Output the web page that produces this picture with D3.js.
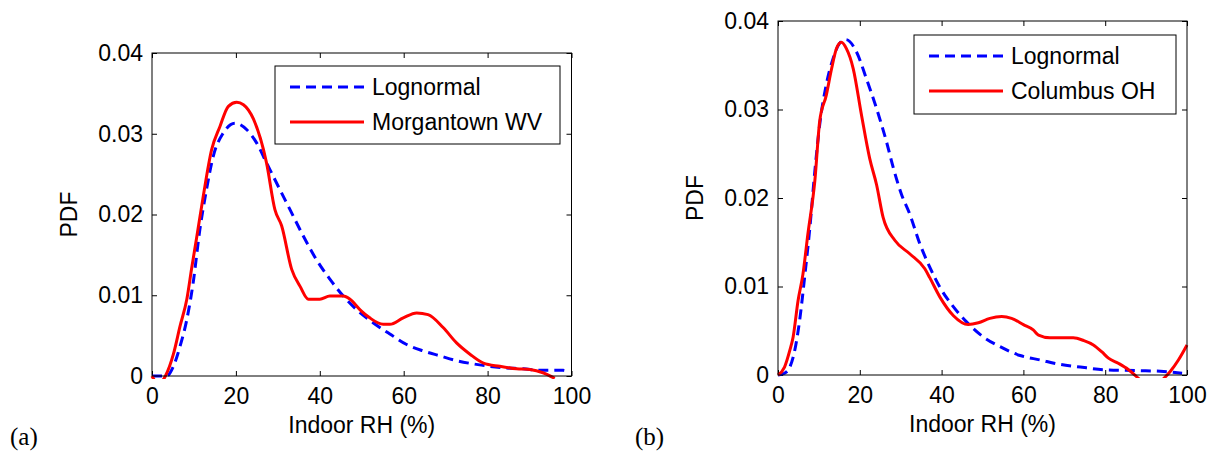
<!DOCTYPE html>
<html>
<head>
<meta charset="utf-8">
<script src="https://cdn.jsdelivr.net/npm/d3@7"></script>
<style>
    body { margin: 0; background: #fff; }
    svg text { font-family: "Liberation Sans", Arial, Helvetica, sans-serif; fill: #000; }
    .axis line { stroke: #000; stroke-width: 1; }
    .axis path { display: none; }
    .axis text { font-size: 23px; }
    .axis-title { font-size: 23px; }
    .legend-text { font-size: 23px; }
    .panel-tag { font-size: 25px; }
</style>
</head>
<body>
<div id="chart"></div>
<script>
// tick values shared by both panels
const xTicks = [0, 20, 40, 60, 80, 100];
const yTicks = [0, 0.01, 0.02, 0.03, 0.04];
const yTickLabels = ['0', '0.01', '0.02', '0.03', '0.04'];

// panel (a): Morgantown WV
const lognormalA_RH = [0, 3.5, 5.1, 6.7, 8.3, 9.8, 11.4, 13.0, 14.6, 17.0, 19.8, 22.6, 24.9, 27.3, 29.7, 32.9, 36.1, 39.2, 42.4, 45.6, 48.8, 52.7, 56.7, 60.7, 64.7, 68.6, 72.6, 76.6, 80.5, 84.5, 88.5, 92.5, 98.0, 99.6];
const lognormalA_PDF = [0, 0, 0.0012, 0.0037, 0.0070, 0.0115, 0.0181, 0.0231, 0.0272, 0.0301, 0.0313, 0.0305, 0.0289, 0.0264, 0.0239, 0.0206, 0.0173, 0.0144, 0.0120, 0.0099, 0.0082, 0.0066, 0.0052, 0.0039, 0.0031, 0.0025, 0.0019, 0.0015, 0.0012, 0.0010, 0.0009, 0.0007, 0.0007, 0.0004];
const morgantownRH = [0, 1.5, 3.2, 5.1, 6.7, 8.3, 9.5, 10.6, 12.2, 14.2, 16.2, 18.2, 20.2, 21.8, 24.2, 27.3, 29.3, 30.9, 33.3, 35.3, 37.3, 40.0, 42.4, 45.6, 47.2, 49.6, 51.9, 55.1, 56.7, 59.9, 63.1, 65.8, 69.4, 72.6, 75.8, 79.0, 82.9, 86.9, 90.1, 93.2, 96.0];
const morgantownPDF = [0, -0.001, 0, 0.0027, 0.0062, 0.0095, 0.0135, 0.0170, 0.0222, 0.0280, 0.0309, 0.0334, 0.0339, 0.0336, 0.0318, 0.0264, 0.0206, 0.0186, 0.0132, 0.0111, 0.0095, 0.0095, 0.0099, 0.0099, 0.0095, 0.0082, 0.0072, 0.0064, 0.0064, 0.0072, 0.0078, 0.0076, 0.0060, 0.0041, 0.0027, 0.0016, 0.0012, 0.0009, 0.0008, 0.0004, -0.0003];

// panel (b): Columbus OH
const lognormalB_RH = [0, 1.6, 2.9, 4.1, 5.3, 6.5, 7.8, 9.0, 10.2, 11.8, 13.5, 15.1, 16.6, 19.2, 21.6, 24.1, 26.5, 28.2, 30.2, 32.2, 34.7, 37.1, 39.6, 42.9, 46.1, 50.2, 54.3, 59.2, 64.1, 69.0, 73.9, 79.6, 87.8, 94.3, 98.8];
const lognormalB_PDF = [0, 0.0002, 0.0009, 0.0028, 0.0062, 0.0110, 0.0167, 0.0230, 0.0283, 0.0328, 0.0358, 0.0375, 0.0379, 0.0365, 0.0335, 0.0301, 0.0264, 0.0234, 0.0204, 0.0182, 0.0148, 0.0122, 0.0099, 0.0077, 0.0060, 0.0043, 0.0032, 0.0022, 0.0017, 0.0012, 0.0009, 0.0006, 0.0005, 0.0004, 0.0002];
const columbusRH = [0, 1.6, 2.9, 3.7, 4.9, 6.1, 7.3, 9.0, 10.2, 11.8, 13.1, 14.3, 15.5, 16.7, 18.4, 20.4, 22.4, 24.1, 25.7, 28.6, 32.2, 35.9, 37.1, 39.6, 42.9, 46.5, 49.0, 51.8, 54.7, 57.1, 60.0, 62.4, 63.7, 66.5, 72.2, 74.7, 77.1, 79.2, 80.8, 83.3, 85.7, 88.2, 91.0, 94.3, 95.9, 97.9, 100];
const columbusPDF = [0, 0.0009, 0.0028, 0.0043, 0.0084, 0.0114, 0.0159, 0.0219, 0.0287, 0.0316, 0.0346, 0.0369, 0.0376, 0.0369, 0.0346, 0.0294, 0.0245, 0.0215, 0.0178, 0.0152, 0.0137, 0.0120, 0.0110, 0.0088, 0.0067, 0.0057, 0.0059, 0.0064, 0.0066, 0.0064, 0.0057, 0.0051, 0.0045, 0.0042, 0.0042, 0.0039, 0.0034, 0.0026, 0.0019, 0.0013, 0.0006, -0.0004, -0.0015, -0.0004, 0.0004, 0.0017, 0.0034];

const zip = (xs, ys) => xs.map((x, i) => ({x: x, y: ys[i]}));

const panels = [
    {
        id: 'a', tag: '(a)', tagX: 10,
        left: 152, top: 53, right: 571.5, bottom: 376,
        legend: {x: 275, y: 66, w: 285, h: 78},
        series: [
            {name: 'Lognormal', color: '#0000ff', dash: '10,6', data: zip(lognormalA_RH, lognormalA_PDF)},
            {name: 'Morgantown WV', color: '#ff0000', dash: null, data: zip(morgantownRH, morgantownPDF)}
        ]
    },
    {
        id: 'b', tag: '(b)', tagX: 635,
        left: 778, top: 21, right: 1187, bottom: 375,
        legend: {x: 914, y: 35, w: 262, h: 79},
        series: [
            {name: 'Lognormal', color: '#0000ff', dash: '10,6', data: zip(lognormalB_RH, lognormalB_PDF)},
            {name: 'Columbus OH', color: '#ff0000', dash: null, data: zip(columbusRH, columbusPDF)}
        ]
    }
];

const svg = d3.select('#chart')
    .append('svg')
    .attr('width', 1213)
    .attr('height', 455);

panels.forEach(p => {
    const width = p.right - p.left;
    const height = p.bottom - p.top;

    const xScale = d3.scaleLinear().domain([0, 100]).range([0, width]);
    const yScale = d3.scaleLinear().domain([0, 0.04]).range([height, 0]);

    const g = svg.append('g')
        .attr('transform', `translate(${p.left},${p.top})`);

    // clip a little outside the box so thick lines at the edge still show
    g.append('clipPath')
        .attr('id', `clip-${p.id}`)
        .append('rect')
        .attr('x', -3)
        .attr('y', -3)
        .attr('width', width + 6)
        .attr('height', height + 6);

    // ticks point inward on all four sides, like a matlab box
    g.append('g')
        .attr('class', 'axis')
        .attr('transform', `translate(0,${height})`)
        .call(d3.axisBottom(xScale).tickValues(xTicks).tickSize(-5).tickPadding(12).tickFormat(d3.format('d')));
    g.append('g')
        .attr('class', 'axis')
        .call(d3.axisTop(xScale).tickValues(xTicks).tickSize(-5).tickFormat(''));
    g.append('g')
        .attr('class', 'axis')
        .call(d3.axisLeft(yScale).tickValues(yTicks).tickSize(-5).tickPadding(9)
            .tickFormat((d, i) => yTickLabels[i]));
    g.append('g')
        .attr('class', 'axis')
        .attr('transform', `translate(${width},0)`)
        .call(d3.axisRight(yScale).tickValues(yTicks).tickSize(-5).tickFormat(''));

    g.selectAll('.axis text').attr('fill', '#000');

    const line = d3.line()
        .x(d => xScale(d.x))
        .y(d => yScale(d.y))
        .curve(d3.curveMonotoneX);

    g.append('g')
        .attr('clip-path', `url(#clip-${p.id})`)
        .selectAll('.curve')
        .data(p.series)
        .join('path')
        .attr('class', 'curve')
        .attr('d', d => line(d.data))
        .attr('fill', 'none')
        .attr('stroke', d => d.color)
        .attr('stroke-width', 3)
        .attr('stroke-dasharray', d => d.dash);

    g.append('rect')
        .attr('width', width)
        .attr('height', height)
        .attr('fill', 'none')
        .attr('stroke', '#000')
        .attr('stroke-width', 1);

    // legend
    const lg = svg.append('g')
        .attr('transform', `translate(${p.legend.x},${p.legend.y})`);
    lg.append('rect')
        .attr('width', p.legend.w)
        .attr('height', p.legend.h)
        .attr('fill', '#fff')
        .attr('stroke', '#000')
        .attr('stroke-width', 1);
    const rows = lg.selectAll('.row')
        .data(p.series)
        .join('g')
        .attr('class', 'row')
        .attr('transform', (d, i) => `translate(0,${21 + i * 35})`);
    rows.append('line')
        .attr('x1', 15)
        .attr('x2', 89)
        .attr('stroke', d => d.color)
        .attr('stroke-width', 3)
        .attr('stroke-dasharray', d => d.dash);
    rows.append('text')
        .attr('class', 'legend-text')
        .attr('x', 97)
        .attr('dy', '0.36em')
        .text(d => d.name);

    // axis titles
    svg.append('text')
        .attr('class', 'axis-title')
        .attr('x', p.left + width / 2)
        .attr('y', p.bottom + 57)
        .style('text-anchor', 'middle')
        .text('Indoor RH (%)');

    svg.append('text')
        .attr('class', 'axis-title')
        .attr('transform', `translate(${p.left - 75},${p.top + height / 2}) rotate(-90)`)
        .style('text-anchor', 'middle')
        .text('PDF');

    svg.append('text')
        .attr('class', 'panel-tag')
        .attr('x', p.tagX)
        .attr('y', 445)
        .style('font-family', '"Liberation Serif", "Times New Roman", serif')
        .text(p.tag);
});
</script>
</body>
</html>
